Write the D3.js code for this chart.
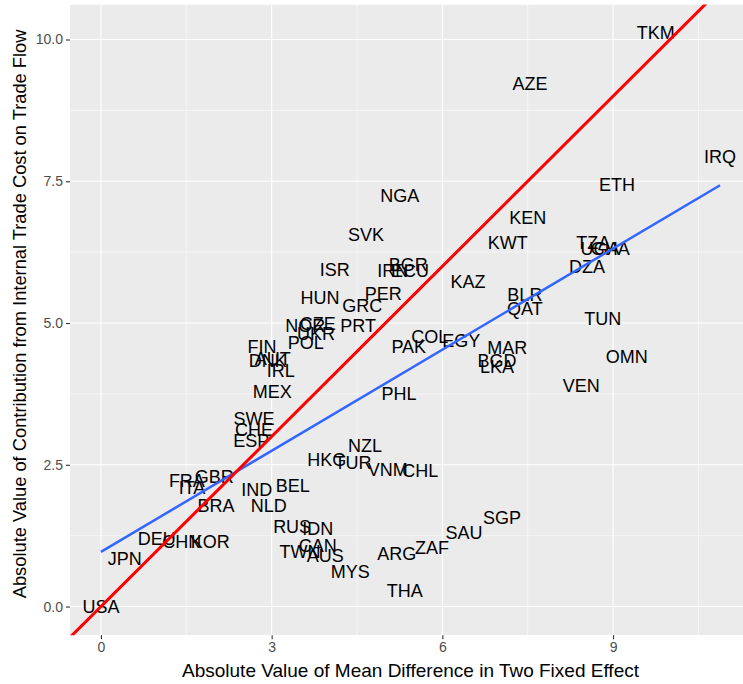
<!DOCTYPE html>
<html>
<head>
<meta charset="utf-8">
<script src="https://cdn.jsdelivr.net/npm/d3@7"></script>
<style>
  html, body { margin: 0; padding: 0; background: #ffffff; }
  svg { display: block; }
</style>
</head>
<body>
<svg id="chart" width="743" height="684"></svg>
<script>
// ---- data ----
const countries = ["TKM","AZE","IRQ","ETH","NGA","KEN","SVK","KWT","TZA","UGA","GHA","DZA",
  "ISR","IRN","BGR","ECU","KAZ","HUN","PER","BLR","GRC","QAT","TUN","NOR","CZE","UKR","PRT",
  "COL","EGY","FIN","POL","PAK","MAR","DNK","AUT","IRL","BGD","LKA","OMN","VEN","MEX","PHL",
  "SWE","CHE","ESP","NZL","HKG","TUR","VNM","CHL","FRA","GBR","ITA","IND","BEL","BRA","NLD",
  "SGP","RUS","IDN","SAU","DEU","CHN","KOR","CAN","ZAF","TWN","ARG","AUS","JPN","MYS","THA","USA"];
const meanDiff = [9.75,7.54,10.88,9.07,5.25,7.50,4.66,7.15,8.65,8.77,8.95,8.54,
  4.11,5.13,5.40,5.43,6.45,3.85,4.96,7.45,4.59,7.45,8.82,3.59,3.81,3.78,4.52,
  5.78,6.33,2.83,3.60,5.41,7.14,2.93,3.02,3.16,6.96,6.96,9.24,8.44,3.01,5.24,
  2.69,2.69,2.64,4.64,3.97,4.43,5.04,5.61,1.51,1.99,1.60,2.74,3.37,2.02,2.95,
  7.05,3.36,3.81,6.38,0.98,1.42,1.92,3.81,5.82,3.50,5.20,3.94,0.42,4.38,5.34,0.00];
const contribution = [10.11,9.22,7.93,7.43,7.24,6.85,6.55,6.41,6.41,6.31,6.31,5.99,
  5.93,5.92,6.02,5.92,5.72,5.44,5.51,5.49,5.30,5.25,5.07,4.95,4.98,4.81,4.95,
  4.75,4.68,4.58,4.65,4.58,4.56,4.33,4.37,4.15,4.33,4.22,4.40,3.89,3.78,3.75,
  3.31,3.11,2.92,2.83,2.58,2.53,2.41,2.39,2.21,2.28,2.09,2.05,2.13,1.77,1.77,
  1.56,1.40,1.37,1.30,1.19,1.14,1.14,1.07,1.03,0.96,0.93,0.89,0.84,0.61,0.27,0.00];
const xTicks = [0, 3, 6, 9];
const yTicks = [0, 2.5, 5, 7.5, 10];
const xMinor = [1.5, 4.5, 7.5, 10.5];
const yMinor = [1.25, 3.75, 6.25, 8.75];
const xTitle = "Absolute Value of Mean Difference in Two Fixed Effect";
const yTitle = "Absolute Value of Contribution from Internal Trade Cost on Trade Flow";

// ---- layout ----
const panel = {left: 70, right: 751, top: 4.6, bottom: 635.2};
const svg = d3.select("#chart");
const font = "'Liberation Sans', Arial, sans-serif";

function expand(ext) { const r = ext[1] - ext[0]; return [ext[0] - 0.05 * r, ext[1] + 0.05 * r]; }
const x = d3.scaleLinear().domain(expand(d3.extent(meanDiff))).range([panel.left, panel.right]);
const y = d3.scaleLinear().domain(expand(d3.extent(contribution))).range([panel.bottom, panel.top]);

const defs = svg.append("defs");
defs.append("clipPath").attr("id", "clip").append("rect")
  .attr("x", panel.left).attr("y", panel.top)
  .attr("width", panel.right - panel.left).attr("height", panel.bottom - panel.top);

const g = svg.append("g").attr("clip-path", "url(#clip)");
g.append("rect").attr("x", panel.left).attr("y", panel.top)
  .attr("width", panel.right - panel.left).attr("height", panel.bottom - panel.top)
  .attr("fill", "#EBEBEB");

// grid
g.selectAll(".xminor").data(xMinor).enter().append("line")
  .attr("x1", d => x(d)).attr("x2", d => x(d)).attr("y1", panel.top).attr("y2", panel.bottom)
  .attr("stroke", "#fff").attr("stroke-width", 0.55);
g.selectAll(".yminor").data(yMinor).enter().append("line")
  .attr("y1", d => y(d)).attr("y2", d => y(d)).attr("x1", panel.left).attr("x2", panel.right)
  .attr("stroke", "#fff").attr("stroke-width", 0.55);
g.selectAll(".xmajor").data(xTicks).enter().append("line")
  .attr("x1", d => x(d)).attr("x2", d => x(d)).attr("y1", panel.top).attr("y2", panel.bottom)
  .attr("stroke", "#fff").attr("stroke-width", 1.1);
g.selectAll(".ymajor").data(yTicks).enter().append("line")
  .attr("y1", d => y(d)).attr("y2", d => y(d)).attr("x1", panel.left).attr("x2", panel.right)
  .attr("stroke", "#fff").attr("stroke-width", 1.1);

// labels
const pts = countries.map((c, i) => ({c, x: meanDiff[i], y: contribution[i]}));
g.selectAll(".lab").data(pts).enter().append("text")
  .attr("x", d => x(d.x)).attr("y", d => y(d.y))
  .attr("text-anchor", "middle").attr("dominant-baseline", "central")
  .attr("font-family", font).attr("font-size", 18).attr("fill", "#000")
  .text(d => d.c);

// linear fit
const mx = d3.mean(meanDiff), my = d3.mean(contribution);
let sxy = 0, sxx = 0;
meanDiff.forEach((v, i) => { sxy += (v - mx) * (contribution[i] - my); sxx += (v - mx) * (v - mx); });
const slope = sxy / sxx, intercept = my - slope * mx;
const xe = d3.extent(meanDiff);
const line = d3.line().x(d => x(d[0])).y(d => y(d[1]));
g.append("path").datum([[xe[0], intercept + slope * xe[0]], [xe[1], intercept + slope * xe[1]]])
  .attr("d", line).attr("stroke", "#3366FF").attr("stroke-width", 2.5).attr("fill", "none");

// 45-degree line y = x
const xd = x.domain();
g.append("path").datum([[xd[0], xd[0]], [xd[1], xd[1]]])
  .attr("d", line).attr("stroke", "#FF0000").attr("stroke-width", 3).attr("fill", "none");

// axes
const xAxis = d3.axisBottom(x).tickValues(xTicks).tickSize(4).tickPadding(3).tickFormat(d3.format("d"));
const ax = svg.append("g").attr("transform", `translate(0,${panel.bottom})`).call(xAxis);
ax.select(".domain").remove();
ax.selectAll("line").attr("stroke", "#333").attr("stroke-width", 1.1);
ax.selectAll("text").attr("fill", "#4D4D4D").attr("font-family", font).attr("font-size", 14);

const yAxis = d3.axisLeft(y).tickValues(yTicks).tickSize(4).tickPadding(3).tickFormat(d3.format(".1f"));
const ay = svg.append("g").attr("transform", `translate(${panel.left},0)`).call(yAxis);
ay.select(".domain").remove();
ay.selectAll("line").attr("stroke", "#333").attr("stroke-width", 1.1);
ay.selectAll("text").attr("fill", "#4D4D4D").attr("font-family", font).attr("font-size", 14);

svg.append("text").attr("x", (panel.left + panel.right) / 2).attr("y", 670)
  .attr("text-anchor", "middle").attr("dominant-baseline", "central")
  .attr("font-family", font).attr("font-size", 19).attr("fill", "#000").text(xTitle);
svg.append("text").attr("transform", `translate(19,${(panel.top + panel.bottom) / 2 - 6}) rotate(-90)`)
  .attr("text-anchor", "middle").attr("dominant-baseline", "central")
  .attr("font-family", font).attr("font-size", 18.3).attr("fill", "#000").text(yTitle);
</script>
</body>
</html>
